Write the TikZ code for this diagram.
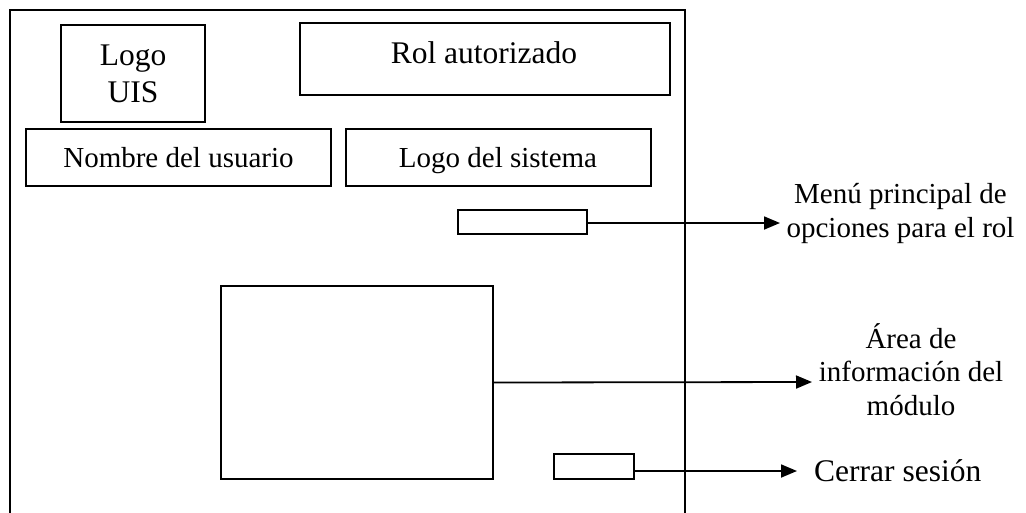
\documentclass[tikz,border=0pt]{standalone}
\usepackage{fontspec}
\setmainfont{Liberation Serif}
\usetikzlibrary{arrows.meta}
\begin{document}
\begin{tikzpicture}[x=1pt,y=-1pt,
  box/.style={draw=black,line width=2pt,inner sep=0pt,fill=white},
  frameline/.style={draw=black,line width=2.2pt},
  arr/.style={draw=black,line width=1.8pt,-{Triangle[length=16pt,width=13pt]}},
  lbl/.style={inner sep=0pt,anchor=base,font=\fontsize{29}{33.5}\selectfont},
  lblbig/.style={inner sep=0pt,anchor=base,font=\fontsize{31.5}{37}\selectfont}]
\useasboundingbox (0,0) rectangle (1026,512);
\fill[white] (0,0) rectangle (1026,512);
% outer frame
\draw[frameline] (10,513) -- (10,10) -- (685,10) -- (685,513);
% top boxes
\node[box,minimum width=144pt,minimum height=97pt] (logouis) at (133,73.5) {};
\node[lblbig,align=center,anchor=base] (logouist) at (133,102) {Logo\\UIS};
\node[box,minimum width=370pt,minimum height=72pt] (rol) at (485,59) {};
\node[lblbig] (rolt) at (484,63) {Rol autorizado};
\node[box,minimum width=305pt,minimum height=57pt] (nombre) at (178.5,157.5) {};
\node[lbl] (nombret) at (178.5,167) {Nombre del usuario};
\node[box,minimum width=305pt,minimum height=57pt] (sistema) at (498.5,157.5) {};
\node[lbl] (sistemat) at (498,167) {Logo del sistema};
% menu
\node[box,minimum width=129pt,minimum height=24pt] (menu) at (522.5,222) {};
\coordinate (menutip) at (780,223);
\draw[arr] ([yshift=-1pt]menu.east) -- (menutip);
\node[lbl,align=center,anchor=base] (menut) at (900.5,237) {Menú principal de\\opciones para el rol};
% info area
\node[box,minimum width=272pt,minimum height=193pt] (area) at (357,382.5) {};
\coordinate (areatip) at (812,382);
\draw[arr] (area.east) -- (areatip);
\node[lbl,align=center,anchor=base] (areat) at (911,415) {Área de\\información del\\módulo};
% cerrar sesion
\node[box,minimum width=80pt,minimum height=25pt] (cerrar) at (594,466.5) {};
\coordinate (cerrartip) at (797,471);
\draw[arr] ([yshift=-4.5pt]cerrar.east) -- (cerrartip);
\node[lblbig,anchor=base west] (cerrart) at (814,481) {Cerrar sesión};
\end{tikzpicture}
\end{document}
